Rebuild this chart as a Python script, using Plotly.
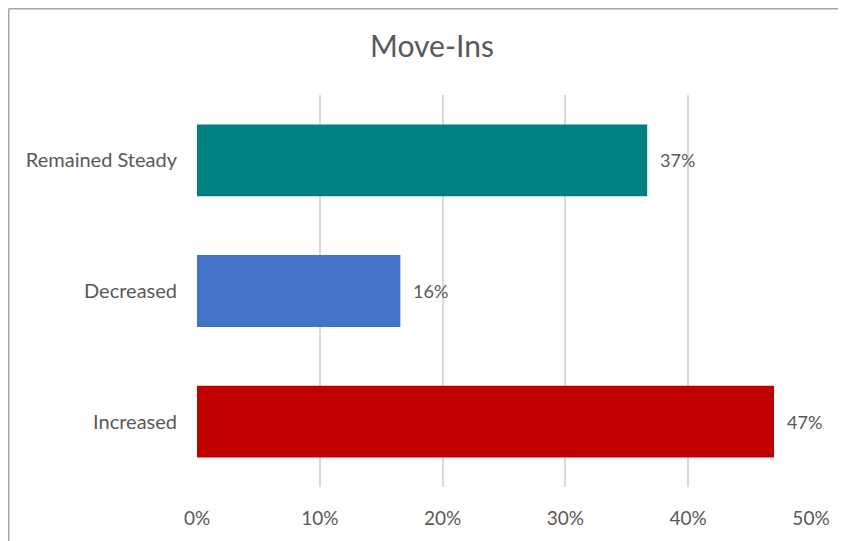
import plotly.graph_objects as go

categories = ["Increased", "Decreased", "Remained Steady"]
values = [46.99, 16.56, 36.66]
labels = ["47%", "16%", "37%"]
colors = ["#C00000", "#4472C4", "#008080"]
tick_vals = [0, 10, 20, 30, 40, 50]
tick_text = ["0%", "10%", "20%", "30%", "40%", "50%"]

FONT = "Lato"
TXT = "#595959"

# plot area: l=189, r=43 -> width 614 ; t=87, b=62 -> height 392
fig = go.Figure()
fig.add_trace(go.Bar(
    y=categories, x=values, orientation="h",
    marker=dict(color=colors, line=dict(width=0)),
    hoverinfo="skip",
))

for c, v, t in zip(categories, values, labels):
    fig.add_annotation(x=v, y=c, text=t, showarrow=False, xanchor="left",
                       xshift=11, font=dict(family=FONT, size=18, color=TXT))

px0 = (0.75 - 189) / 614
px1 = (846 - 189) / 614
py0 = (479 - 541) / 392
py1 = (479 - 0.75) / 392
border = dict(color="#A6A6A6", width=1.5)
fig.add_shape(type="line", xref="paper", yref="paper",
              x0=px0, x1=px1, y0=py1, y1=py1, line=border, layer="below")
fig.add_shape(type="line", xref="paper", yref="paper",
              x0=px0, x1=px0, y0=py0, y1=py1, line=border, layer="below")

fig.update_layout(
    width=846, height=541,
    margin=dict(l=189, r=43, t=87, b=62),
    paper_bgcolor="white", plot_bgcolor="white",
    bargap=0.45,
    showlegend=False,
    title=dict(text="Move-Ins", x=424 / 846, xanchor="center", y=1 - 38 / 541,
               yanchor="middle", font=dict(family=FONT, size=30, color=TXT)),
    xaxis=dict(range=[0, 50], tickvals=tick_vals, ticktext=tick_text,
               showgrid=True, gridcolor="#D9D9D9", gridwidth=1.5,
               zeroline=False, showline=False, ticks="",
               ticklabelstandoff=18,
               tickfont=dict(family=FONT, size=19, color=TXT)),
    yaxis=dict(range=[-0.5, 2.5], categoryorder="array", categoryarray=categories,
               showgrid=False, zeroline=False, showline=False, ticks="",
               ticklabelstandoff=19,
               tickfont=dict(family=FONT, size=20, color=TXT)),
)

fig.write_html("out.html")
